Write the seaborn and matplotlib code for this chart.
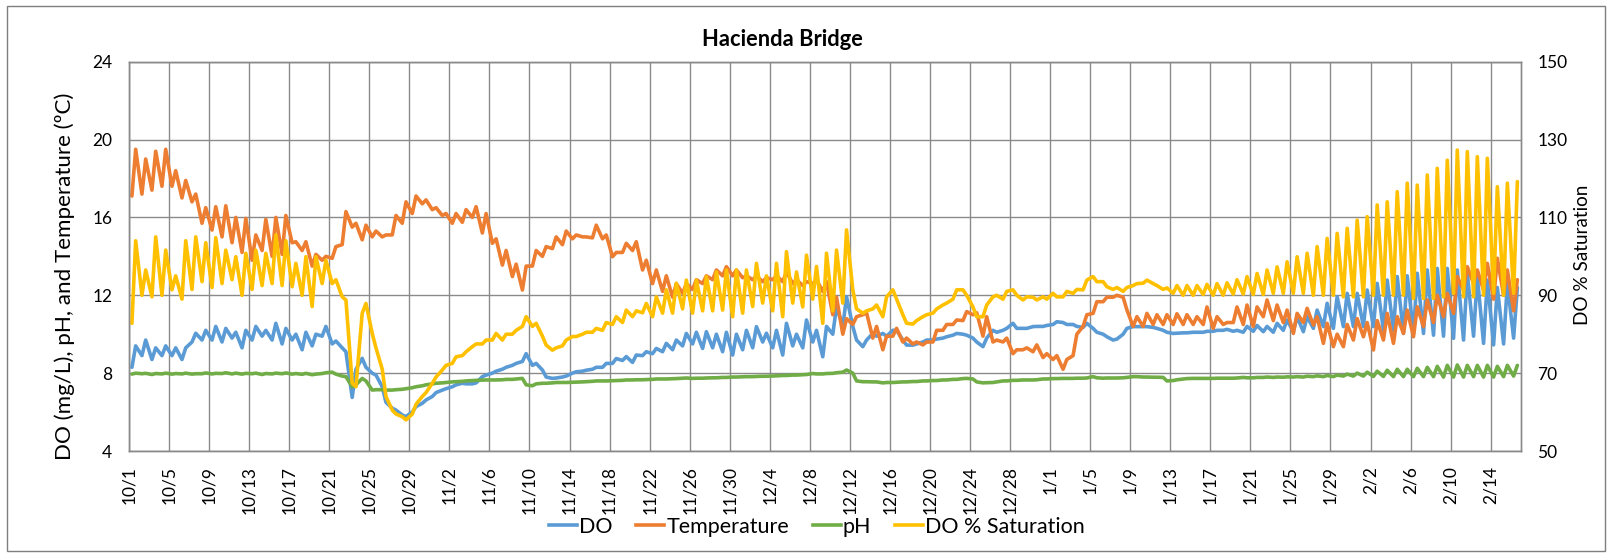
import matplotlib
matplotlib.use("Agg")
import matplotlib.pyplot as plt
import pandas as pd
import seaborn as sns
from matplotlib.lines import Line2D
from matplotlib.patches import Rectangle

# ---------------- data (two readings per day: ~07:00 and ~16:00) ----------------
start_date = "2019-10-01"
n_days = 139
sample_hours = [7, 16]

do_mgL = [
    8.3, 9.4, 8.9, 9.7, 8.7, 9.3, 8.9, 9.4, 8.9, 9.3, 8.7, 9.3, 9.6, 10.05, 9.7, 10.2,
    9.7, 10.4, 9.6, 10.3, 9.8, 10.1, 9.3, 10.2, 9.7, 10.4, 9.9, 10.2, 9.7, 10.56, 9.5, 10.3,
    9.7, 10.0, 9.2, 10.1, 9.4, 10.0, 9.9, 10.4, 9.5, 9.65, 9.3, 9.1, 6.75, 8.2, 8.76, 8.3,
    8.0, 7.9, 7.3, 6.5, 6.2, 6.1, 5.85, 5.77, 6.0, 6.28, 6.45, 6.62, 6.8, 7.0, 7.13, 7.2,
    7.3, 7.4, 7.48, 7.45, 7.45, 7.5, 7.82, 7.9, 8.0, 8.1, 8.2, 8.3, 8.4, 8.5, 8.6, 9.0,
    8.4, 8.5, 8.16, 7.8, 7.73, 7.75, 7.8, 7.85, 8.0, 8.07, 8.1, 8.15, 8.2, 8.3, 8.3, 8.5,
    8.5, 8.75, 8.65, 8.85, 8.55, 8.93, 8.9, 9.1, 9.0, 9.27, 9.1, 9.53, 9.2, 9.7, 9.4, 10.04,
    9.5, 10.1, 9.27, 10.13, 9.3, 10.0, 9.1, 10.1, 8.93, 10.0, 9.2, 10.2, 9.3, 10.39, 9.6, 10.05,
    9.3, 10.2, 8.93, 10.56, 9.4, 10.0, 9.3, 10.73, 9.6, 10.2, 8.84, 10.4, 10.0, 11.41, 10.4, 11.93,
    10.4, 9.7, 9.36, 9.7, 10.04, 9.9, 10.04, 9.9, 10.2, 10.2, 9.7, 9.44, 9.44, 9.5, 9.6, 9.7,
    9.7, 9.75, 9.8, 9.87, 9.95, 10.04, 10.0, 9.95, 9.8, 9.6, 9.36, 9.8, 10.2, 10.1, 10.2, 10.3,
    10.56, 10.3, 10.3, 10.3, 10.39, 10.4, 10.4, 10.45, 10.5, 10.64, 10.6, 10.5, 10.5, 10.4, 10.35, 10.56,
    10.3, 10.1, 10.0, 9.87, 9.7, 9.75, 10.0, 10.3, 10.39, 10.39, 10.39, 10.39, 10.35, 10.3, 10.2, 10.1,
    10.04, 10.05, 10.07, 10.07, 10.1, 10.1, 10.1, 10.15, 10.15, 10.2, 10.2, 10.25, 10.15, 10.2, 10.1, 10.4,
    10.15, 10.45, 10.13, 10.4, 10.1, 10.56, 10.2, 10.73, 10.13, 10.9, 10.13, 10.9, 10.3, 11.24, 10.39, 11.59,
    10.3, 11.93, 10.39, 12.1, 10.39, 12.1, 10.39, 12.27, 10.39, 12.61, 10.2, 12.78, 10.2, 12.96, 10.04, 13.0,
    10.04, 13.13, 10.04, 13.3, 9.95, 13.38, 9.9, 13.38, 9.79, 13.3, 9.7, 13.13, 9.9, 12.96, 9.53, 12.78,
    9.45, 12.4, 9.5, 12.6, 9.8, 12.4,
]

temperature_C = [
    17.1, 19.5, 17.2, 19.0, 17.4, 19.4, 17.6, 19.5, 17.6, 18.4, 17.0, 17.9, 16.8, 17.2, 15.7, 16.5,
    15.35, 16.55, 15.0, 16.6, 14.7, 16.0, 14.2, 15.95, 13.8, 15.1, 14.3, 15.9, 14.0, 16.0, 14.1, 16.1,
    14.7, 14.75, 14.3, 14.75, 13.5, 14.1, 13.8, 14.0, 13.9, 14.5, 14.6, 16.3, 15.5, 15.7, 14.85, 15.6,
    15.0, 15.3, 15.0, 15.1, 15.1, 16.1, 15.7, 16.8, 16.2, 17.1, 16.7, 16.9, 16.4, 16.5, 16.1, 16.2,
    15.7, 16.2, 15.75, 16.4, 16.0, 16.55, 15.2, 16.2, 14.67, 14.9, 13.55, 14.3, 12.96, 13.6, 12.27, 13.5,
    13.5, 14.3, 14.0, 14.5, 14.4, 15.0, 14.6, 15.3, 14.9, 15.1, 15.0, 15.0, 14.95, 15.6, 14.9, 15.1,
    13.98, 14.2, 14.2, 14.67, 14.3, 14.75, 13.3, 13.8, 12.6, 13.3, 12.2, 13.0, 11.9, 12.6, 12.1, 12.6,
    12.3, 12.8, 12.6, 13.0, 12.8, 13.3, 13.0, 13.47, 13.0, 13.3, 12.9, 13.0, 12.8, 13.0, 12.7, 12.9,
    12.8, 13.0, 12.7, 13.2, 12.6, 12.8, 12.5, 12.7, 12.6, 12.8, 12.2, 12.7, 11.0, 11.9, 10.0, 10.8,
    10.5, 10.9, 11.0, 11.1, 9.8, 10.4, 9.2, 9.9, 9.9, 10.3, 9.6, 9.8, 9.5, 9.6, 9.45, 9.6,
    9.6, 10.2, 10.2, 10.5, 10.5, 10.73, 10.7, 11.16, 11.0, 11.1, 9.9, 10.9, 9.6, 9.7, 9.6, 9.8,
    9.0, 9.2, 9.2, 9.3, 9.1, 9.45, 8.8, 9.0, 8.7, 8.9, 8.2, 8.7, 8.9, 10.0, 10.4, 11.0,
    11.07, 11.67, 11.67, 11.9, 11.9, 12.0, 11.9, 11.25, 10.4, 10.9, 10.4, 11.07, 10.5, 11.0, 10.5, 11.0,
    10.5, 11.05, 10.5, 11.0, 10.5, 10.9, 10.5, 11.4, 10.3, 10.9, 10.5, 10.6, 10.6, 11.4, 10.5, 11.5,
    10.4, 11.4, 10.9, 11.76, 10.7, 11.5, 10.6, 11.24, 10.04, 11.07, 10.6, 11.33, 10.47, 10.9, 9.53, 10.56,
    9.36, 10.0, 9.36, 10.5, 9.7, 10.8, 9.87, 10.6, 9.19, 10.7, 9.7, 11.07, 9.53, 10.9, 10.04, 11.24,
    9.87, 11.41, 10.39, 11.76, 10.6, 12.0, 10.9, 12.1, 11.07, 12.96, 12.27, 13.47, 12.6, 13.3, 12.27, 13.64,
    11.8, 13.9, 12.0, 13.3, 11.2, 12.8,
]

ph = [
    7.95, 8.0, 7.97, 7.99, 7.93, 7.98, 7.96, 8.0, 7.95, 7.98, 7.96, 8.0, 7.95, 7.97, 7.97, 8.01,
    7.96, 7.99, 7.98, 8.02, 7.96, 8.0, 7.95, 7.99, 7.97, 8.0, 7.93, 7.98, 7.96, 8.0, 7.97, 8.01,
    7.95, 7.98, 7.94, 7.99, 7.92, 7.95, 7.98, 8.02, 8.05, 7.95, 7.85, 7.82, 7.3, 7.4, 7.73, 7.6,
    7.13, 7.15, 7.15, 7.13, 7.13, 7.15, 7.17, 7.2, 7.25, 7.3, 7.35, 7.4, 7.45, 7.48, 7.5, 7.52,
    7.55, 7.56, 7.58, 7.6, 7.62, 7.63, 7.64, 7.65, 7.65, 7.65, 7.66, 7.68, 7.68, 7.7, 7.73, 7.4,
    7.35, 7.45, 7.48, 7.48, 7.5, 7.52, 7.52, 7.52, 7.53, 7.54, 7.55, 7.56, 7.58, 7.6, 7.6, 7.6,
    7.61, 7.62, 7.63, 7.65, 7.65, 7.66, 7.66, 7.67, 7.68, 7.7, 7.7, 7.7, 7.71, 7.72, 7.74, 7.75,
    7.73, 7.74, 7.74, 7.75, 7.76, 7.76, 7.78, 7.78, 7.8, 7.8, 7.81, 7.82, 7.82, 7.83, 7.84, 7.84,
    7.85, 7.86, 7.88, 7.88, 7.9, 7.9, 7.92, 7.93, 7.98, 7.96, 7.96, 7.98, 7.99, 8.02, 8.05, 8.16,
    8.0, 7.6, 7.56, 7.56, 7.55, 7.55, 7.5, 7.52, 7.52, 7.53, 7.55, 7.55, 7.57, 7.57, 7.6, 7.6,
    7.62, 7.62, 7.65, 7.65, 7.68, 7.68, 7.72, 7.73, 7.7, 7.55, 7.5, 7.51, 7.52, 7.55, 7.6, 7.6,
    7.63, 7.63, 7.65, 7.65, 7.65, 7.66, 7.7, 7.7, 7.72, 7.72, 7.73, 7.73, 7.73, 7.74, 7.74, 7.75,
    7.82, 7.76, 7.74, 7.75, 7.75, 7.75, 7.76, 7.78, 7.82, 7.82, 7.8, 7.8, 7.79, 7.79, 7.78, 7.6,
    7.62, 7.66, 7.7, 7.72, 7.73, 7.73, 7.73, 7.73, 7.73, 7.74, 7.74, 7.74, 7.74, 7.75, 7.78, 7.76,
    7.76, 7.78, 7.78, 7.8, 7.78, 7.8, 7.79, 7.81, 7.8, 7.82, 7.8, 7.84, 7.82, 7.86, 7.82, 7.88,
    7.82, 7.9, 7.85, 7.95, 7.85, 8.0, 7.85, 8.05, 7.83, 8.1, 7.83, 8.15, 7.82, 8.2, 7.82, 8.2,
    7.82, 8.25, 7.82, 8.3, 7.82, 8.35, 7.8, 8.4, 7.8, 8.42, 7.8, 8.4, 7.82, 8.4, 7.8, 8.4,
    7.8, 8.35, 7.82, 8.4, 7.85, 8.4,
]

do_saturation_pct = [
    82.8, 104, 90, 96.5, 89.6, 105, 90, 101.6, 91.4, 95, 89, 104, 91.5, 105, 93.5, 103.5,
    92, 104.8, 93, 101.6, 94, 99.9, 90, 100.8, 91.5, 101.6, 92.5, 100.8, 93, 105.5, 92.5, 104,
    92.2, 98.2, 90, 99.9, 87.1, 99.9, 93, 99, 93, 94, 89.6, 88.8, 67.4, 66.5, 85.4, 87.9,
    80.2, 76.5, 71, 64, 60.5, 59.5, 58.8, 58, 59.5, 62, 64, 65, 67.4, 69, 70.8, 72,
    72.5, 74.2, 74.5, 75.5, 76.8, 77.5, 77.5, 78.5, 78.5, 80.2, 78.5, 80, 80, 81, 82, 84.5,
    82, 82.8, 79.5, 77.2, 75.9, 76.5, 77, 78.5, 79.4, 79.4, 80, 80.5, 80.5, 81.5, 81, 83,
    82.5, 84.5, 83, 86.2, 84.5, 86, 85.5, 87.9, 84.5, 89.6, 85.4, 91.4, 85.4, 93.1, 86.5, 93.9,
    85.4, 93.9, 86, 94.8, 86, 96, 86.2, 96.5, 84.5, 96.5, 85.4, 96.5, 87.1, 98.2, 88, 95,
    86, 98.2, 84.5, 101.2, 88, 96, 87, 100.3, 89, 97.4, 82.8, 100.8, 86, 101.6, 88, 106.8,
    91.4, 86.5, 85.4, 86, 86.5, 87.5, 84.5, 89.6, 91.4, 89, 85, 82.8, 82.6, 83.5, 84.5, 85,
    85.4, 86.5, 87.5, 88, 89, 91.4, 91.4, 90, 87, 84.5, 84.5, 87.5, 89.6, 90, 89, 91,
    91.4, 90, 88.8, 89.6, 89.5, 88.8, 89.6, 89, 90.5, 89.6, 89.6, 91, 90.5, 91.5, 91.4, 93.9,
    94.8, 93.5, 93.5, 92.2, 91.5, 92, 91, 92, 92.5, 93, 93.1, 93.9, 93, 92.5, 91.5, 91.9,
    90.5, 92.5, 90, 92.5, 90, 92.5, 90.2, 92.8, 90, 93, 90, 93.2, 90.3, 94, 90.3, 94.8,
    90.2, 95.6, 90.2, 96.5, 90.5, 97.3, 90.5, 98.6, 90.5, 99.9, 90.5, 100.8, 90, 102.5, 90, 104.6,
    90, 105.9, 89.6, 107.2, 89.6, 109.3, 89.6, 110.2, 90, 113.2, 90, 114, 90, 116.6, 90, 118.8,
    89.2, 118.3, 89.2, 120.9, 89.2, 122.6, 89.6, 124.7, 90.5, 127.3, 89.6, 126.9, 89.6, 125.6, 90, 125.2,
    90.5, 117.9, 90, 118.8, 90.5, 119.2,
]

tick_labels = ["10/1", "10/5", "10/9", "10/13", "10/17", "10/21", "10/25", "10/29",
               "11/2", "11/6", "11/10", "11/14", "11/18", "11/22", "11/26", "11/30",
               "12/4", "12/8", "12/12", "12/16", "12/20", "12/24", "12/28", "1/1",
               "1/5", "1/9", "1/13", "1/17", "1/21", "1/25", "1/29", "2/2", "2/6",
               "2/10", "2/14"]

series_names = ["DO", "Temperature", "pH", "DO % Saturation"]
series_colors = ["#5B9BD5", "#ED7D31", "#70AD47", "#FFC000"]

# ---------------- build tables ----------------
t0 = pd.Timestamp(start_date)
times = [t0 + pd.Timedelta(days=d, hours=h) for d in range(n_days) for h in sample_hours]
prim = pd.concat([
    pd.DataFrame({"time": times, "value": do_mgL, "series": "DO"}),
    pd.DataFrame({"time": times, "value": temperature_C, "series": "Temperature"}),
    pd.DataFrame({"time": times, "value": ph, "series": "pH"}),
], ignore_index=True)
sec = pd.DataFrame({"time": times, "value": do_saturation_pct, "series": "DO % Saturation"})
tick_dates = [t0 + pd.Timedelta(days=4 * i) for i in range(len(tick_labels))]

# ---------------- figure ----------------
W, H = 1613, 553
plt.rcParams["font.family"] = ["Lato", "DejaVu Sans"]
fig = plt.figure(figsize=(W / 100, H / 100), dpi=100)
ax_l, ax_r, ax_b, ax_t = 129, 1520.7, 451, 61.7
ax = fig.add_axes([ax_l / W, 1 - ax_b / H, (ax_r - ax_l) / W, (ax_b - ax_t) / H])
ax2 = ax.twinx()

lw = 2.6
pal = dict(zip(series_names, series_colors))
sns.lineplot(data=prim, x="time", y="value", hue="series", hue_order=series_names[:3],
             palette=pal, linewidth=lw, estimator=None, sort=False, legend=False, ax=ax)
sns.lineplot(data=sec, x="time", y="value", color=pal["DO % Saturation"],
             linewidth=lw, estimator=None, sort=False, legend=False, ax=ax2)
for a in (ax, ax2):
    for ln in a.get_lines():
        ln.set_solid_joinstyle("round")
        ln.set_solid_capstyle("round")

grid_c = "#8a8a8a"
ax.set_xlim(t0, t0 + pd.Timedelta(days=n_days))
ax.set_ylim(4, 24)
ax.set_yticks(range(4, 25, 4))
ax2.set_ylim(50, 150)
ax2.set_yticks(range(50, 151, 20))
ax.set_xticks(tick_dates)
ax.set_xticklabels(tick_labels, rotation=90)
ax.grid(True, color=grid_c, linewidth=1)
ax.set_axisbelow(True)
ax.set_xlabel("")
ax.set_ylabel("")
ax2.set_ylabel("")
ax2.set_xlabel("")
ax2.grid(False)
for a in (ax, ax2):
    for s in a.spines.values():
        s.set_color(grid_c)
        s.set_linewidth(1)
ax.tick_params(axis="x", length=0, pad=11, labelsize=12.5, colors="black")
ax.tick_params(axis="y", length=0, pad=12, labelsize=12.5)
ax2.tick_params(axis="y", length=0, pad=12, labelsize=12.5)

title = fig.text(782 / W, 1 - 39 / H, "Hacienda Bridge", ha="center", va="center",
                 fontsize=14, fontweight="bold")
ylab_l = fig.text(65 / W, 1 - 276 / H, "DO (mg/L), pH, and Temperature (ºC)",
                  rotation=90, ha="center", va="center", fontsize=14)
ylab_r = fig.text(1582 / W, 1 - 255 / H, "DO % Saturation",
                  rotation=90, ha="center", va="center", fontsize=14)

handles = [Line2D([0], [0], color=c, lw=lw) for c in series_colors]

def make_legend(fs):
    return fig.legend(handles, series_names, loc="center", bbox_to_anchor=(817 / W, 1 - 527 / H),
                      ncol=4, frameon=False, fontsize=fs, handlelength=1.3,
                      handletextpad=0.1, columnspacing=1.1, borderpad=0)

leg = make_legend(14)

# chart border
fig.patches.append(Rectangle((7 / W, 1 - 551 / H), (1605 - 7) / W, (551 - 6) / H,
                             transform=fig.transFigure, fill=False, ec="#7f7f7f", lw=1))

# fit text sizes to the measured reference extents
fig.canvas.draw()
r = fig.canvas.get_renderer()

def fit(t, target, vertical=False):
    bb = t.get_window_extent(r)
    cur = bb.height if vertical else bb.width
    t.set_fontsize(t.get_fontsize() * target / cur)

fit(title, 162)
fit(ylab_l, 367, vertical=True)
fit(ylab_r, 140, vertical=True)
lab = ax.get_xticklabels()[7]
xs = 12.5 * 48 / lab.get_window_extent(r).height
ax.tick_params(axis="both", labelsize=xs)
ax2.tick_params(axis="y", labelsize=xs)
lw_txt = leg.get_texts()[3].get_window_extent(r).width
fs = 14 * 160 / lw_txt
leg.remove()
leg = make_legend(fs)

fig.savefig("out.png", dpi=100)
